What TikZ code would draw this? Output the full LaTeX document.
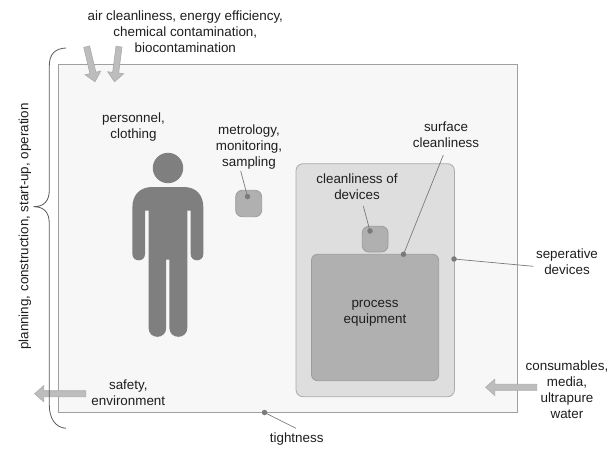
\documentclass[tikz,border=0pt]{standalone}
\usepackage{fontspec}
\setmainfont{Liberation Sans}
\usetikzlibrary{calc}
\definecolor{roomfill}{HTML}{F7F7F7}
\definecolor{roomline}{HTML}{A0A0A0}
\definecolor{devfill}{HTML}{DEDEDE}
\definecolor{devline}{HTML}{ABABAB}
\definecolor{boxfill}{HTML}{B0B0B0}
\definecolor{boxline}{HTML}{9C9C9C}
\definecolor{figfill}{HTML}{7F7F7F}
\definecolor{leadline}{HTML}{7A7A7A}
\definecolor{arrfill}{HTML}{BDBDBD}
\definecolor{arrline}{HTML}{ADADAD}
\definecolor{txt}{HTML}{1E1E1E}
\tikzset{
  lbl/.style={align=center,inner sep=0pt,text=txt,font=\fontsize{13.4}{16}\selectfont},
  dotm/.style={circle,fill=leadline,draw=none,minimum size=5.5pt,inner sep=0pt},
  lead/.style={draw=leadline,line width=0.7pt},
  softbox/.style={draw=boxline,fill=boxfill,line width=0.8pt},
  flow/.style={draw=arrline,fill=arrfill,line width=0.7pt},
}
\newcommand{\blockarrow}[2]{%
  \path[flow] let \p1=(#1), \p2=(#2), \n1={atan2(\y2-\y1,\x2-\x1)}, \n2={veclen(\y2-\y1,\x2-\x1)} in
   [shift={(#1)},rotate=\n1,x=1pt,y=1pt]
   (0,-3) -- (\n2-9,-3) -- (\n2-9,-8) -- (\n2,0) -- (\n2-9,8) -- (\n2-9,3) -- (0,3) -- cycle;
}
\begin{document}
\begin{tikzpicture}[x=1pt,y=-1pt]
\useasboundingbox (0,0) rectangle (614,448);
% room
\draw[draw=roomline,fill=roomfill,line width=0.9pt] (58.5,64.5) rectangle (517,412.5);
% separative device
\draw[draw=devline,fill=devfill,line width=0.8pt,rounded corners=7pt] (296,163.7) rectangle (454.5,396.7);
% process equipment
\draw[softbox,rounded corners=6pt] (311.5,254.3) rectangle (438.7,380.7);
% small boxes
\draw[softbox,rounded corners=6.5pt] (362.3,226.3) rectangle (388,252);
\draw[softbox,rounded corners=6.5pt] (235.7,190.3) rectangle (261.7,216.7);
% person
\fill[figfill] (168,168) circle [radius=15.2pt];
\fill[figfill] (152,187) -- (184,187)
  .. controls (196,187) and (203.3,195) .. (203.3,207)
  -- (203.3,254) .. controls (203.3,258) and (200.5,260.3) .. (197,260.3)
  .. controls (193.5,260.3) and (190.7,258) .. (190.7,254)
  -- (190.7,210.5) -- (187.3,210.5)
  -- (187.3,328) .. controls (187.3,333.5) and (183,336.8) .. (178.5,336.8)
  .. controls (173.5,336.8) and (169.4,333.5) .. (169.4,328)
  -- (169.4,259.5) -- (166.2,259.5)
  -- (166.2,328) .. controls (166.2,333.5) and (162,336.8) .. (157.5,336.8)
  .. controls (152.5,336.8) and (148.6,333.5) .. (148.6,328)
  -- (148.6,210.5) -- (145,210.5)
  -- (145,254) .. controls (145,258) and (142.2,260.3) .. (138.7,260.3)
  .. controls (135.2,260.3) and (132.4,258) .. (132.4,254)
  -- (132.4,207) .. controls (132.4,195) and (140,187) .. (152,187) -- cycle;
% text
\node[lbl] (air) at (185.3,31.5) {air cleanliness, energy efficiency,\\chemical contamination,\\biocontamination};
\node[lbl] (pers) at (133.5,127) {personnel,\\clothing};
\node[lbl] (metro) at (249,147.5) {metrology,\\monitoring,\\sampling};
\node[lbl] (surf) at (446,135) {surface\\cleanliness};
\node[lbl] (clean) at (357,187) {cleanliness of\\devices};
\node[lbl] (sep) at (567,262) {seperative\\devices};
\node[lbl] (proc) at (375,313) {process\\equipment};
\node[lbl] (cons) at (567,389.7) {consumables,\\media,\\ultrapure\\water};
\node[lbl] (safe) at (128.3,393) {safety,\\environment};
\node[lbl] (tight) at (296.7,439) {tightness};
\node[lbl,rotate=90] (plan) at (25,226.5) {planning, construction, start-up, operation};
% dots
\node[dotm] (dmetro) at (247.5,196.5) {};
\node[dotm] (dclean) at (370,231) {};
\node[dotm] (dsurf) at (403.5,254.3) {};
\node[dotm] (dsep) at (454,259) {};
\node[dotm] (dtight) at (264.5,412.5) {};
% leader ends
\coordinate (lmetro) at (240.7,171);
\coordinate (lclean) at (363.3,206);
\coordinate (lsurf) at (443.3,155);
\coordinate (lsep) at (533.3,266.3);
\coordinate (ltight) at (296,428.3);
\draw[lead] (lmetro) -- (dmetro.center);
\draw[lead] (lclean) -- (dclean.center);
\draw[lead] (lsurf) -- (dsurf.center);
\draw[lead] (lsep) -- (dsep.center);
\draw[lead] (ltight) -- (dtight.center);
% arrows
\coordinate (a1t) at (86.7,46.7); \coordinate (a1h) at (95,81.7);
\coordinate (a2t) at (119,46.7); \coordinate (a2h) at (114.5,81.7);
\coordinate (a3t) at (85.7,393.7); \coordinate (a3h) at (34.7,393.7);
\coordinate (a4t) at (536.7,387.3); \coordinate (a4h) at (485.7,387.3);
\blockarrow{a1t}{a1h}
\blockarrow{a2t}{a2h}
\blockarrow{a3t}{a3h}
\blockarrow{a4t}{a4h}
% brace
\coordinate (bt) at (66,48);
\coordinate (bb) at (66,428.3);
\coordinate (bm) at (33.5,206.7);
\draw[draw=black!65,line width=0.8pt] (bt) .. controls (55,48.5) and (49.3,54) .. (49.3,66)
  -- (49.3,190) .. controls (49.3,201) and (44,206.7) .. (bm)
  .. controls (44,206.7) and (49.3,212) .. (49.3,224)
  -- (49.3,405) .. controls (49.3,418) and (55,427.5) .. (bb);
\end{tikzpicture}
\end{document}
